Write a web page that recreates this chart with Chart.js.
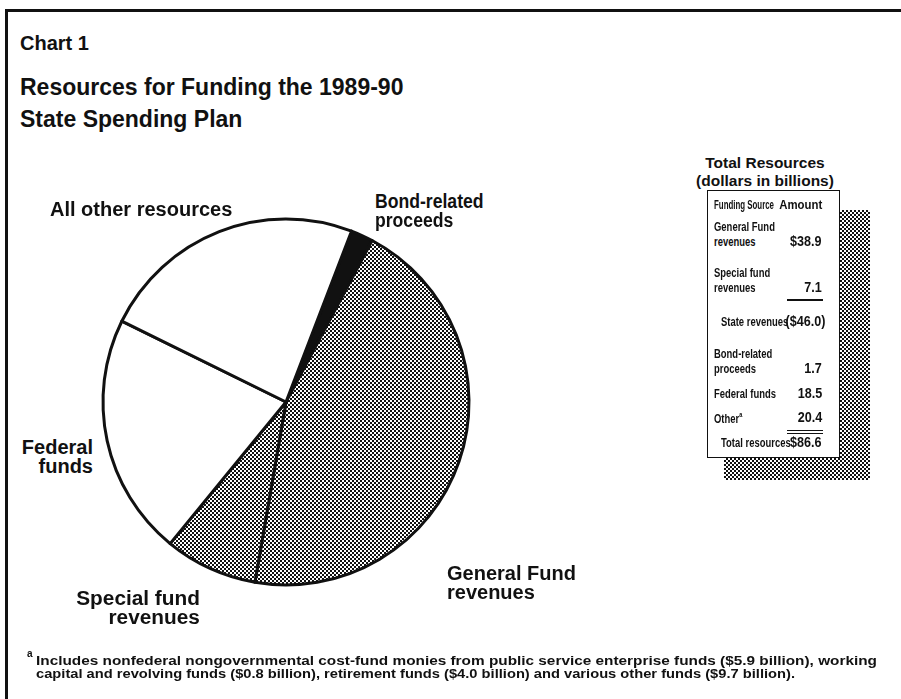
<!DOCTYPE html>
<html>
<head>
<meta charset="utf-8">
<script src="https://cdn.jsdelivr.net/npm/chart.js@4.4.1/dist/chart.umd.min.js"></script>
<style>
  body { margin: 0; background: #fff; }
  #page { position: relative; width: 901px; height: 699px; overflow: hidden; background: #fff;
          font-family: "Liberation Sans", Arial, sans-serif; font-weight: bold; color: #111; }
  .rule { position: absolute; background: #111; }
  .t { position: absolute; white-space: nowrap; line-height: 1; }
  .mesh { position: absolute; background: repeating-conic-gradient(#111 0 25%, #fff 0 50%) 0 0 / 4px 4px; }
  #pie { position: absolute; left: 96px; top: 212px; }
  #box { position: absolute; left: 707px; top: 190px; width: 131px; height: 266px;
         border: 1.5px solid #111; background: #fff; }
</style>
</head>
<body>
<div id="page">
  <div class="rule" style="left:5px;top:9px;width:896px;height:3px"></div>
  <div class="rule" style="left:5px;top:9px;width:3px;height:690px"></div>

  <canvas id="pie" width="380" height="380"></canvas>

  <!-- shadow behind the resources table -->
  <div class="mesh" style="left:724px;top:210px;width:146px;height:270px"></div>
  <div id="box"></div>
</div>

<script>
// funding sources, clockwise from the top of the pie
const categories = ['Bond-related proceeds', 'General Fund revenues', 'Special fund revenues', 'Federal funds', 'All other resources'];
const amounts = [1.7, 38.9, 7.1, 18.5, 20.4];

// how each pie label is broken into lines
const pieLabelLines = [['Bond-related', 'proceeds'], ['General Fund', 'revenues'], ['Special fund', 'revenues'], ['Federal', 'funds'], ['All other resources']];

// table rows: label lines, amount, indented
const tableLabels = [['General Fund', 'revenues'], ['Special fund', 'revenues'], ['State revenues'], ['Bond-related', 'proceeds'], ['Federal funds'], ['Other'], ['Total resources']];
const tableAmounts = ['$38.9', '7.1', '($46.0)', '1.7', '18.5', '20.4', '$86.6'];
const tableIndented = [false, false, true, false, false, false, true];

const footnoteLines = [
  'Includes nonfederal nongovernmental cost-fund monies from public service enterprise funds ($5.9 billion), working',
  'capital and revolving funds ($0.8 billion), retirement funds ($4.0 billion) and various other funds ($9.7 billion).'
];

const page = document.getElementById('page');

function text(str, x, baseline, size, align, scale) {
  const d = document.createElement('div');
  d.className = 't';
  d.textContent = str;
  d.style.fontSize = size + 'px';
  d.style.top = (baseline - 0.847 * size) + 'px';
  if (align === 'right') {
    d.style.right = (901 - x) + 'px';
  } else if (align === 'center') {
    d.style.left = (x - 200) + 'px';
    d.style.width = '400px';
    d.style.textAlign = 'center';
  } else {
    d.style.left = x + 'px';
  }
  if (scale) {
    d.style.transformOrigin = (align === 'right' ? 'right' : 'left') + ' top';
    d.style.transform = 'scaleX(' + scale + ')';
  }
  page.appendChild(d);
  return d;
}

function fitWidth(el, w, origin) {
  const cur = el.getBoundingClientRect().width;
  el.style.transformOrigin = (origin || 'left') + ' top';
  el.style.transform = 'scaleX(' + (w / cur) + ')';
}

// headings
text('Chart 1', 20, 50, 20);
text('Resources for Funding the 1989-90', 20, 95, 23);
text('State Spending Plan', 20, 127, 23);

// pie labels
const pieLabelPos = [
  { x: 375, y: 208, align: 'left', scale: 0.88 },
  { x: 447, y: 580, align: 'left' },
  { x: 200, y: 605, align: 'right', scale: 1.04 },
  { x: 93, y: 454, align: 'right' },
  { x: 50, y: 216, align: 'left' }
];
pieLabelLines.forEach((lines, i) => {
  const p = pieLabelPos[i];
  lines.forEach((ln, j) => text(ln, p.x, p.y + j * 19, 20, p.align, p.scale));
});

// table
text('Total Resources', 765, 168, 15.5, 'center');
text('(dollars in billions)', 765, 186, 15.5, 'center');
fitWidth(text('Funding Source', 714, 210, 12.5), 60);
fitWidth(text('Amount', 822, 210, 12.5, 'right'), 43, 'right');

const rowTop = [231, 277, 326, 358, 398, 422, 447];
tableLabels.forEach((lines, i) => {
  const x = tableIndented[i] ? 721 : 714;
  lines.forEach((ln, j) => {
    const el = text(ln, x, rowTop[i] + j * 15, 13.5, 'left', 0.7);
    if (ln === 'Other') {
      const sup = document.createElement('sup');
      sup.textContent = 'a';
      sup.style.fontSize = '8px';
      el.appendChild(sup);
    }
  });
  const amtY = rowTop[i] + (lines.length - 1) * 15;
  const right = tableAmounts[i].startsWith('(') ? 826 : 822;
  text(tableAmounts[i], right, amtY, 15, 'right', 0.84);
});
// subtotal and total rules under the amounts
[[299, 1.5], [430, 1.2], [433, 1.2]].forEach(([y, h]) => {
  const r = document.createElement('div');
  r.className = 'rule';
  Object.assign(r.style, { left: '787px', top: y + 'px', width: '36px', height: h + 'px' });
  page.appendChild(r);
});

// footnote
text('a', 27, 657, 10);
footnoteLines.forEach((ln, i) => {
  const el = text(ln, 36, 666 + i * 13, 12.5);
  fitWidth(el, i === 0 ? 841 : 759);
});

// halftone fill used for the state revenue slices
const tile = document.createElement('canvas');
tile.width = 4; tile.height = 4;
const tctx = tile.getContext('2d');
tctx.fillStyle = '#fff';
tctx.fillRect(0, 0, 4, 4);
tctx.fillStyle = '#111';
tctx.fillRect(0, 0, 2, 2);
tctx.fillRect(2, 2, 2, 2);
const mesh = document.getElementById('pie').getContext('2d').createPattern(tile, 'repeat');

new Chart(document.getElementById('pie'), {
  type: 'pie',
  data: {
    labels: categories,
    datasets: [{
      data: amounts,
      backgroundColor: ['#111', mesh, mesh, '#fff', '#fff'],
      borderColor: '#111',
      borderWidth: 3,
      borderJoinStyle: 'round',
      hoverOffset: 0
    }]
  },
  options: {
    responsive: false,
    animation: false,
    rotation: 21,
    radius: 183,
    layout: { padding: 0 },
    plugins: { legend: { display: false }, tooltip: { enabled: false } }
  }
});
</script>
</body>
</html>
